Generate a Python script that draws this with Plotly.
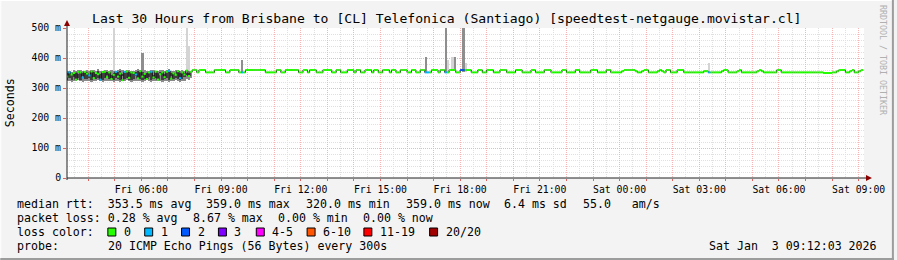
import pandas as pd
import plotly.graph_objects as go

# ---------------- data ----------------
START = pd.Timestamp("2026-01-02 03:10:00")   # first 5-minute sample
STEP_MIN = 5
VIEW_START = pd.Timestamp("2026-01-02 03:12:03")
VIEW_END = pd.Timestamp("2026-01-03 09:12:03")

# median rtt in ms, one value per 5-minute sample (one row = one hour)
median_ms = [
    338, 352, 345, 350, 328, 354, 352, 335, 354, 348, 342, 355,
    333, 350, 346, 328, 353, 354, 336, 352, 330, 344, 354, 338,
    348, 326, 354, 355, 334, 352, 350, 345, 332, 356, 338, 347,
    330, 352, 354, 335, 355, 328, 346, 352, 336, 354, 357, 331,
    349, 344, 356, 333, 352, 345, 358, 340, 354, 360, 360, 352,
    360, 360, 360, 352, 352, 352, 352, 360, 360, 360, 360, 360,
    352, 352, 360, 360, 360, 360, 352, 352, 352, 360, 360, 360,
    360, 360, 360, 360, 360, 360, 352, 352, 352, 352, 352, 360,
    360, 352, 352, 360, 360, 360, 360, 360, 360, 352, 352, 360,
    360, 352, 360, 360, 360, 352, 352, 352, 360, 360, 360, 360,
    352, 352, 360, 360, 352, 352, 352, 360, 360, 360, 352, 360,
    360, 352, 352, 360, 360, 360, 352, 360, 360, 352, 352, 360,
    360, 360, 352, 360, 360, 352, 352, 360, 360, 360, 352, 352,
    360, 360, 352, 352, 360, 360, 352, 352, 352, 360, 360, 360,
    352, 360, 360, 352, 352, 360, 360, 360, 352, 352, 360, 360,
    360, 360, 360, 352, 352, 352, 360, 360, 352, 352, 360, 360,
    360, 352, 352, 352, 360, 360, 360, 352, 352, 352, 352, 360,
    360, 360, 352, 352, 352, 352, 360, 360, 352, 352, 352, 352,
    360, 360, 360, 352, 352, 352, 352, 352, 360, 360, 352, 352,
    352, 352, 360, 360, 352, 352, 352, 352, 352, 360, 360, 360,
    352, 352, 352, 352, 360, 360, 352, 352, 352, 352, 352, 356,
    360, 360, 360, 360, 360, 356, 352, 352, 356, 360, 360, 352,
    352, 352, 352, 356, 360, 356, 352, 360, 360, 352, 352, 352,
    360, 360, 360, 352, 352, 352, 352, 352, 352, 352, 352, 352,
    356, 356, 352, 352, 352, 352, 352, 352, 356, 360, 360, 352,
    352, 352, 352, 356, 360, 352, 352, 352, 352, 352, 352, 352,
    356, 360, 356, 352, 352, 352, 352, 352, 352, 360, 360, 352,
    352, 352, 352, 352, 352, 352, 352, 352, 352, 352, 352, 352,
    352, 352, 352, 352, 352, 352, 350, 350, 350, 350, 352, 352,
    356, 360, 360, 360, 352, 352, 356, 360, 352, 352, 356, 360,
]

# samples with lost pings (sample index, number of lost pings out of 20)
loss_idx = [1, 7, 10, 15, 22, 26, 31, 38, 46, 51, 79, 162, 163, 171, 178, 179, 290]
loss_cnt = [1, 1, 1, 1, 1, 1, 1, 1, 1, 1, 1, 1, 1, 1, 2, 2, 1]

# smoke (ping spread) of the noisy first hours, samples 0..56
early_min = [322, 325, 321, 324, 323, 326, 322, 320, 324, 323, 325, 321, 322, 324, 326, 323,
             321, 325, 322, 324, 323, 321, 325, 322, 320, 324, 323, 326, 322, 321, 324, 325,
             323, 322, 320, 324, 326, 323, 321, 322, 325, 324, 322, 320, 323, 325, 321, 324,
             322, 326, 323, 321, 324, 322, 330, 328, 335]
early_max = [356, 358, 355, 360, 357, 361, 359, 356, 358, 361, 357, 360, 359, 356, 362, 358,
             357, 360, 361, 356, 359, 358, 357, 360, 362, 360, 356, 359, 361, 358, 357, 360,
             362, 359, 361, 361, 358, 357, 360, 359, 356, 358, 361, 360, 357, 359, 362, 358,
             356, 360, 361, 358, 359, 357, 360, 358, 356]
early_core_lo = [328, 332, 327, 336, 329, 333, 328, 340, 330, 329, 332, 327, 338, 331, 334, 330,
                 327, 332, 342, 331, 330, 328, 333, 329, 327, 339, 330, 334, 328, 327, 331, 341,
                 330, 329, 327, 331, 334, 338, 328, 329, 333, 331, 344, 327, 330, 332, 328, 340,
                 329, 334, 330, 328, 331, 338, 345, 345, 350]
early_core_hi = [350, 352, 346, 354, 351, 348, 352, 349, 351, 355, 344, 354, 352, 349, 356, 346,
                 350, 354, 355, 349, 343, 351, 350, 354, 356, 347, 349, 352, 355, 351, 346, 354,
                 356, 352, 355, 348, 351, 350, 354, 345, 349, 351, 355, 354, 347, 352, 356, 351,
                 349, 345, 355, 351, 352, 350, 350, 350, 350]

# isolated high pings (sample index, low, high, shade)
spike_idx = [21, 34, 54, 55, 79, 162, 171, 172, 174, 175, 179, 180, 290]
spike_lo = [350, 350, 345, 345, 352, 352, 352, 352, 356, 356, 352, 352, 352]
spike_hi = [500, 418, 500, 440, 395, 405, 500, 395, 404, 404, 500, 384, 385]
spike_shade = ["light", "mid", "light", "light", "mid", "mid", "mid", "light",
               "light", "mid", "mid", "light", "light"]

tick_times = ["2026-01-02 06:00", "2026-01-02 09:00", "2026-01-02 12:00", "2026-01-02 15:00",
              "2026-01-02 18:00", "2026-01-02 21:00", "2026-01-03 00:00", "2026-01-03 03:00",
              "2026-01-03 06:00", "2026-01-03 09:00"]
tick_labels = ["Fri 06:00", "Fri 09:00", "Fri 12:00", "Fri 15:00", "Fri 18:00", "Fri 21:00",
               "Sat 00:00", "Sat 03:00", "Sat 06:00", "Sat 09:00"]
y_ticks = [0, 100, 200, 300, 400, 500]
y_labels = ["0", "100 m", "200 m", "300 m", "400 m", "500 m"]

loss_names = ["0", "1", "2", "3", "4-5", "6-10", "11-19", "20/20"]
loss_colors = ["#26ff00", "#00b8ff", "#0059ff", "#7e00ff", "#ff00ff", "#ff5500", "#ff0000", "#a10000"]

title = "Last 30 Hours from Brisbane to [CL] Telefonica (Santiago) [speedtest-netgauge.movistar.cl]"
rtt_items = ["median rtt:  353.5 ms avg", "359.0 ms max", "320.0 ms min", "359.0 ms now",
             "6.4 ms sd", "55.0   am/s"]
loss_items = ["packet loss: 0.28 % avg", "8.67 % max", "0.00 % min", "0.00 % now"]
probe_text = "20 ICMP Echo Pings (56 Bytes) every 300s"
stamp_text = "Sat Jan  3 09:12:03 2026"

# ---------------- layout geometry (pixels) ----------------
W, H = 897, 260
L, R, T, B = 67, 30, 28, 82
PW, PH = W - L - R, H - T - B
FONT = "DejaVu Sans Mono"


def px(x):
    return (x - L) / PW


def py(y):
    return (H - B - y) / PH


def nb(s):
    return s.replace(" ", "\u00a0")


step = pd.Timedelta(minutes=STEP_MIN)
n = len(median_ms)
ne = len(early_min)
t = [START + step * i for i in range(n + 1)]
mid = [START + step * i + step / 2 for i in range(n)]
bar_w = STEP_MIN * 60 * 1000

fig = go.Figure()

shade_col = {"light": "#d4d4d4", "mid": "#8e8e8e"}
for sh in ["light", "mid"]:
    ids = [k for k, s in enumerate(spike_shade) if s == sh]
    fig.add_trace(go.Bar(
        x=[mid[spike_idx[k]] for k in ids],
        y=[spike_hi[k] - spike_lo[k] for k in ids],
        base=[spike_lo[k] for k in ids],
        width=bar_w, marker=dict(color=shade_col[sh], line=dict(width=0)),
        hoverinfo="skip", showlegend=False))

fig.add_trace(go.Bar(
    x=mid[:ne], y=[early_max[i] - early_min[i] for i in range(ne)], base=early_min,
    width=bar_w, marker=dict(color="#8a8a8a", line=dict(width=0)),
    hoverinfo="skip", showlegend=False))
fig.add_trace(go.Bar(
    x=mid[:ne], y=[early_core_hi[i] - early_core_lo[i] for i in range(ne)], base=early_core_lo,
    width=bar_w, marker=dict(color="#3e3e3e", line=dict(width=0)),
    hoverinfo="skip", showlegend=False))

# median: dark step risers, coloured horizontal parts by loss
fig.add_trace(go.Scatter(
    x=t, y=median_ms + [median_ms[-1]], mode="lines",
    line=dict(color="#1a1a1a", width=1, shape="hv"),
    hoverinfo="skip", showlegend=False))

loss_of = {i: c for i, c in zip(loss_idx, loss_cnt)}


def loss_class(c):
    if c <= 3:
        return c
    if c <= 5:
        return 4
    if c <= 10:
        return 5
    if c <= 19:
        return 6
    return 7


segs = {}
for i in range(n):
    k = loss_class(loss_of.get(i, 0))
    xs, ys = segs.setdefault(k, ([], []))
    xs += [t[i], t[i + 1], None]
    ys += [median_ms[i], median_ms[i], None]
for k in sorted(segs):
    xs, ys = segs[k]
    fig.add_trace(go.Scatter(
        x=xs, y=ys, mode="lines", line=dict(color=loss_colors[k], width=2),
        hoverinfo="skip", showlegend=False))

hours = pd.date_range("2026-01-02 04:00", "2026-01-03 09:00", freq="1h")
lab = {pd.Timestamp(a): b for a, b in zip(tick_times, tick_labels)}
hour_text = [lab.get(h, "") for h in hours]

RED_GRID = "#f6b4b4"
GRAY_GRID = "#e0e0e0"

fig.update_layout(
    width=W, height=H,
    margin=dict(l=L, r=R, t=T, b=B, pad=0),
    paper_bgcolor="#f3f3f3", plot_bgcolor="#ffffff",
    barmode="overlay", bargap=0,
    font=dict(family=FONT, size=10, color="#000000"),
    xaxis=dict(
        type="date", range=[VIEW_START, VIEW_END],
        tickmode="array", tickvals=list(hours), ticktext=hour_text,
        showgrid=True, gridcolor=RED_GRID, griddash="1px,1px", gridwidth=1,
        ticks="outside", ticklen=2, tickcolor="#e06060",
        tickfont=dict(family=FONT, size=9.8),
        minor=dict(tick0="2026-01-02 03:30", dtick=1800000, showgrid=True,
                   gridcolor=GRAY_GRID, griddash="1px,1px", ticks=""),
        showline=False, zeroline=False, fixedrange=True),
    yaxis=dict(
        range=[0, 500], tickmode="array", tickvals=y_ticks, ticktext=y_labels,
        showgrid=True, gridcolor=RED_GRID, griddash="1px,1px", gridwidth=1,
        ticks="outside", ticklen=3, tickcolor="#e06060",
        tickfont=dict(family=FONT, size=9.8),
        minor=dict(dtick=20, showgrid=True, gridcolor=GRAY_GRID, griddash="1px,1px", ticks=""),
        showline=False, zeroline=False, fixedrange=True),
)

shapes = []
AX = "#202020"
ARROW = "#8b0000"
shapes.append(dict(type="line", xref="paper", yref="paper", x0=px(L), x1=px(872),
                   y0=py(178), y1=py(178), line=dict(color=AX, width=1)))
shapes.append(dict(type="line", xref="paper", yref="paper", x0=px(L), x1=px(L),
                   y0=py(180), y1=py(23), line=dict(color=AX, width=1)))
shapes.append(dict(type="path", xref="paper", yref="paper",
                   path=f"M {px(875)} {py(178)} L {px(869)} {py(175)} L {px(869)} {py(181)} Z",
                   fillcolor=ARROW, line=dict(color=ARROW, width=0)))
shapes.append(dict(type="path", xref="paper", yref="paper",
                   path=f"M {px(L)} {py(20)} L {px(L - 3)} {py(26)} L {px(L + 3)} {py(26)} Z",
                   fillcolor=ARROW, line=dict(color=ARROW, width=0)))
shapes.append(dict(type="line", xref="paper", yref="paper", x0=px(0), x1=px(W),
                   y0=py(0.5), y1=py(0.5), line=dict(color="#ffffff", width=1)))
shapes.append(dict(type="line", xref="paper", yref="paper", x0=px(0.5), x1=px(0.5),
                   y0=py(0), y1=py(H), line=dict(color="#ffffff", width=1)))
shapes.append(dict(type="line", xref="paper", yref="paper", x0=px(0), x1=px(W),
                   y0=py(H - 1), y1=py(H - 1), line=dict(color="#9c9c9c", width=2)))
shapes.append(dict(type="line", xref="paper", yref="paper", x0=px(W - 1), x1=px(W - 1),
                   y0=py(0), y1=py(H), line=dict(color="#9c9c9c", width=2)))

box_x = [108, 145, 182, 219, 257, 308, 365, 431]
txt_x = [123, 160, 197, 234, 272, 323, 380, 446]
for bx, col in zip(box_x, loss_colors):
    shapes.append(dict(type="rect", xref="paper", yref="paper",
                       x0=px(bx), x1=px(bx + 8), y0=py(236), y1=py(228),
                       fillcolor=col, line=dict(color="#000000", width=1)))

fig.update_layout(shapes=shapes)

LEG = 11.6
ann = []


def text(x, y, s, size=LEG, anchor="left", color="#000000", angle=0):
    ann.append(dict(xref="paper", yref="paper", x=px(x), y=py(y), text=nb(s),
                    showarrow=False, xanchor=anchor, yanchor="middle", borderpad=0,
                    textangle=angle, font=dict(family=FONT, size=size, color=color)))


text(448, 19, title, size=13.1, anchor="center")
text(10, 103, "Seconds", size=11.6, anchor="center", angle=-90)
text(886, 60, "RRDTOOL / TOBI OETIKER", size=8.3, anchor="center", color="#b0b0b0", angle=90)

for x, s in zip([16, 206, 306, 406, 505, 584], rtt_items):
    text(x, 204, s)
for x, s in zip([16, 192, 278, 363], loss_items):
    text(x, 218, s)
text(16, 232, "loss color:")
for x, s in zip(txt_x, loss_names):
    text(x, 232, s)
text(16, 246, "probe:")
text(107, 246, probe_text)
text(881, 246, stamp_text, anchor="right")

fig.update_layout(annotations=ann)
fig.write_html("out.html")
